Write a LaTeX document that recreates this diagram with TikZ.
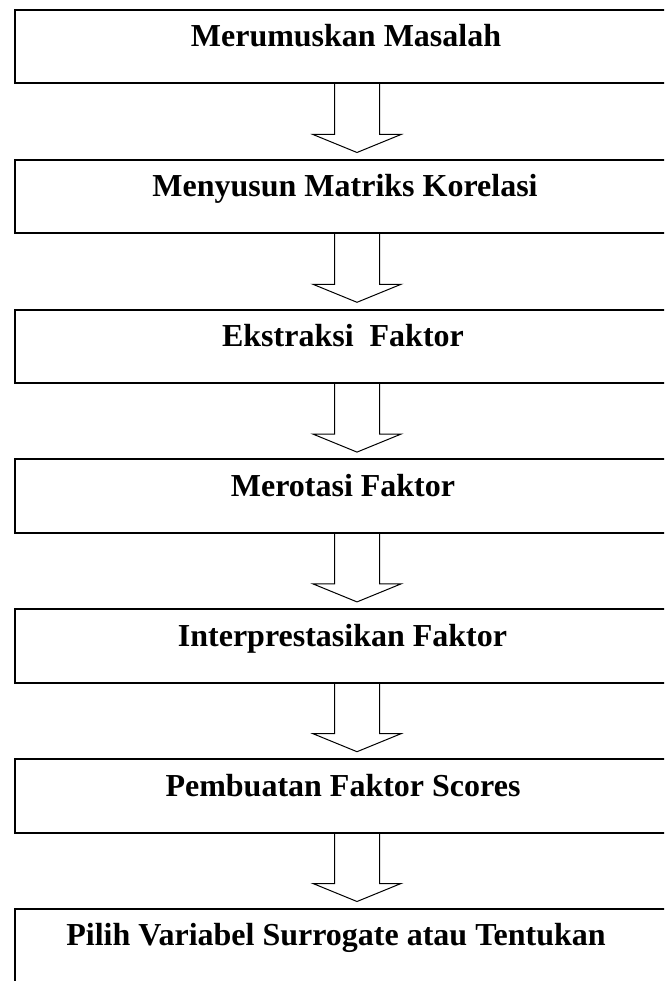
\documentclass[tikz,border=0pt]{standalone}
\usepackage{fontspec}
\setmainfont{Liberation Serif}
\usetikzlibrary{calc}
\tikzset{
  stepbox/.style={draw, line width=2pt, minimum width=665pt, minimum height=73.5pt, inner sep=0pt, outer sep=0pt},
  steplabel/.style={anchor=base, inner sep=0pt, font=\fontsize{32}{38}\selectfont\bfseries},
  blockarrow/.style={draw, line width=1pt, line join=miter},
}
\newcommand\flowarrow[1]{\draw[blockarrow] ($(#1.south)+(-13,0)$) -- ++(0,51) -- ++(-21.5,0) -- ++(44,18) -- ++(44,-18) -- ++(-21.5,0) -- ++(0,-51);}
\begin{document}
\begin{tikzpicture}[x=1pt,y=-1pt]
\clip (0,0) rectangle (664,981);
\node[stepbox] (b1) at (347.5,46.75) {};
\node[stepbox] (b2) at (347.5,196.55) {};
\node[stepbox] (b3) at (347.5,346.35) {};
\node[stepbox] (b4) at (347.5,496.15) {};
\node[stepbox] (b5) at (347.5,645.95) {};
\node[stepbox] (b6) at (347.5,795.75) {};
\node[stepbox] (b7) at (347.5,945.55) {};
\node[steplabel] (t1) at ($(b1.north)+(-1.5,37)$) {Merumuskan Masalah};
\node[steplabel] (t2) at ($(b2.north)+(-2.5,37)$) {Menyusun Matriks Korelasi};
\node[steplabel] (t3) at ($(b3.north)+(-4.5,37)$) {Ekstraksi\ \ Faktor};
\node[steplabel] (t4) at ($(b4.north)+(-4.5,37)$) {Merotasi Faktor};
\node[steplabel] (t5) at ($(b5.north)+(-5,37)$) {Interprestasikan Faktor};
\node[steplabel] (t6) at ($(b6.north)+(-4.5,37)$) {Pembuatan Faktor Scores};
\node[steplabel] (t7) at ($(b7.north)+(-11.5,37)$) {Pilih Variabel Surrogate atau Tentukan};
\flowarrow{b1}
\flowarrow{b2}
\flowarrow{b3}
\flowarrow{b4}
\flowarrow{b5}
\flowarrow{b6}
\end{tikzpicture}
\end{document}
